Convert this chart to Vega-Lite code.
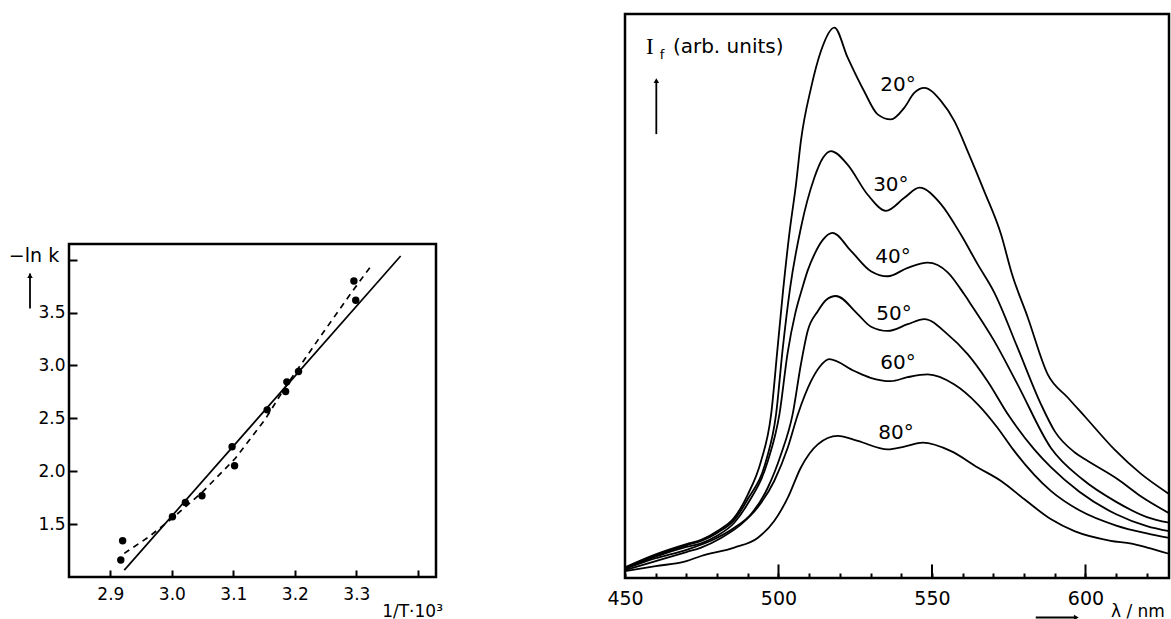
{
  "$schema": "https://vega.github.io/schema/vega-lite/v6.json",
  "background": "white",
  "padding": {"left": 7, "top": 12, "right": 0, "bottom": 0},
  "bounds": "flush",
  "spacing": 556,
  "config": {
    "view": {"stroke": "black", "strokeWidth": 2.5},
    "axis": {"domain": false, "grid": false, "tickColor": "black", "tickWidth": 2, "labelColor": "black", "labelFont": "DejaVu Sans", "labelOverlap": false, "labelFlush": false, "labelBound": false},
    "text": {"font": "DejaVu Sans", "color": "black"}
  },
  "datasets": {
    "points": [
      {"x": 2.920, "y": 1.343}, {"x": 2.917, "y": 1.160}, {"x": 3.001, "y": 1.569}, {"x": 3.022, "y": 1.705},
      {"x": 3.049, "y": 1.768}, {"x": 3.098, "y": 2.231}, {"x": 3.102, "y": 2.051}, {"x": 3.155, "y": 2.580},
      {"x": 3.187, "y": 2.845}, {"x": 3.185, "y": 2.754}, {"x": 3.206, "y": 2.943}, {"x": 3.296, "y": 3.799},
      {"x": 3.299, "y": 3.617}
    ],
    "solid": [{"x": 2.9227, "y": 1.065}, {"x": 3.372, "y": 4.035}],
    "dashed": [
      {"x": 2.9227, "y": 1.223}, {"x": 2.963, "y": 1.381}, {"x": 3.001, "y": 1.557}, {"x": 3.049, "y": 1.799},
      {"x": 3.103, "y": 2.120}, {"x": 3.152, "y": 2.492}, {"x": 3.184, "y": 2.791}, {"x": 3.238, "y": 3.244},
      {"x": 3.292, "y": 3.689}, {"x": 3.326, "y": 3.957}
    ],
    "leftText": [
      {"x": 2.735, "y": 4.03, "label": "−ln k", "size": 19},
      {"x": 3.342, "y": 0.67, "label": "1/T·10³", "size": 17}
    ],
    "leftArrow": [{"x": 2.7694, "y": 3.538, "y2": 3.87}],
    "leftArrowHead": [{"x": 2.7694, "y": 3.85}],
    "spectra": [
      {"curve": "20", "nm": 450, "v": 1.9}, {"curve": "20", "nm": 460, "v": 4.2}, {"curve": "20", "nm": 470, "v": 6.0}, {"curve": "20", "nm": 475, "v": 6.8},
      {"curve": "20", "nm": 480, "v": 8.3}, {"curve": "20", "nm": 485.6, "v": 10.7}, {"curve": "20", "nm": 490, "v": 14.8}, {"curve": "20", "nm": 494.3, "v": 20.7},
      {"curve": "20", "nm": 497.6, "v": 29.0}, {"curve": "20", "nm": 499.7, "v": 40.8}, {"curve": "20", "nm": 501.5, "v": 51.0}, {"curve": "20", "nm": 503.5, "v": 60.9},
      {"curve": "20", "nm": 505.7, "v": 69.8}, {"curve": "20", "nm": 507.3, "v": 77.5}, {"curve": "20", "nm": 510.6, "v": 86.9}, {"curve": "20", "nm": 513.8, "v": 93.4},
      {"curve": "20", "nm": 518.2, "v": 97.6}, {"curve": "20", "nm": 522.5, "v": 92.3}, {"curve": "20", "nm": 527.9, "v": 86.3}, {"curve": "20", "nm": 532.3, "v": 82.2},
      {"curve": "20", "nm": 536.6, "v": 81.3}, {"curve": "20", "nm": 541, "v": 83.4}, {"curve": "20", "nm": 544.2, "v": 86.0}, {"curve": "20", "nm": 547.5, "v": 86.9},
      {"curve": "20", "nm": 552.9, "v": 84.6}, {"curve": "20", "nm": 557.3, "v": 81.0}, {"curve": "20", "nm": 561.6, "v": 75.7}, {"curve": "20", "nm": 567, "v": 68.6},
      {"curve": "20", "nm": 572.5, "v": 60.9}, {"curve": "20", "nm": 576, "v": 54.0}, {"curve": "20", "nm": 581.2, "v": 46.2}, {"curve": "20", "nm": 587.7, "v": 36.1},
      {"curve": "20", "nm": 594.2, "v": 32.0}, {"curve": "20", "nm": 600, "v": 28.5}, {"curve": "20", "nm": 609.4, "v": 22.8}, {"curve": "20", "nm": 618, "v": 18.5},
      {"curve": "20", "nm": 627.2, "v": 14.9},

      {"curve": "30", "nm": 450, "v": 1.8}, {"curve": "30", "nm": 460, "v": 4.0}, {"curve": "30", "nm": 470, "v": 5.8}, {"curve": "30", "nm": 475, "v": 6.6},
      {"curve": "30", "nm": 480, "v": 8.0}, {"curve": "30", "nm": 485.6, "v": 10.3}, {"curve": "30", "nm": 490, "v": 14.0}, {"curve": "30", "nm": 495.9, "v": 20.7},
      {"curve": "30", "nm": 499.2, "v": 29.0}, {"curve": "30", "nm": 501.4, "v": 40.8}, {"curve": "30", "nm": 503.8, "v": 51.5}, {"curve": "30", "nm": 507.3, "v": 62.1},
      {"curve": "30", "nm": 511.7, "v": 71.0}, {"curve": "30", "nm": 514.5, "v": 74.5}, {"curve": "30", "nm": 517.1, "v": 75.7}, {"curve": "30", "nm": 522.5, "v": 73.3},
      {"curve": "30", "nm": 529, "v": 68.0}, {"curve": "30", "nm": 535, "v": 65.1}, {"curve": "30", "nm": 541, "v": 67.4}, {"curve": "30", "nm": 545.9, "v": 69.2},
      {"curve": "30", "nm": 552.9, "v": 66.3}, {"curve": "30", "nm": 559.4, "v": 60.9}, {"curve": "30", "nm": 564.9, "v": 55.6}, {"curve": "30", "nm": 570.3, "v": 50.6},
      {"curve": "30", "nm": 577.9, "v": 40.8}, {"curve": "30", "nm": 585.5, "v": 30.8}, {"curve": "30", "nm": 590, "v": 26.0}, {"curve": "30", "nm": 596.4, "v": 22.3},
      {"curve": "30", "nm": 600, "v": 21.0}, {"curve": "30", "nm": 610.5, "v": 17.5}, {"curve": "30", "nm": 618, "v": 14.5}, {"curve": "30", "nm": 627.2, "v": 11.5},

      {"curve": "40", "nm": 450, "v": 1.7}, {"curve": "40", "nm": 460, "v": 3.8}, {"curve": "40", "nm": 470, "v": 5.5}, {"curve": "40", "nm": 475, "v": 6.2},
      {"curve": "40", "nm": 480, "v": 7.5}, {"curve": "40", "nm": 485.6, "v": 9.8}, {"curve": "40", "nm": 490, "v": 13.2}, {"curve": "40", "nm": 496.5, "v": 20.7},
      {"curve": "40", "nm": 500.3, "v": 29.0}, {"curve": "40", "nm": 503, "v": 40.0}, {"curve": "40", "nm": 505.5, "v": 47.0}, {"curve": "40", "nm": 507.8, "v": 51.5},
      {"curve": "40", "nm": 509.5, "v": 54.5}, {"curve": "40", "nm": 511.7, "v": 57.4}, {"curve": "40", "nm": 514.5, "v": 60.0}, {"curve": "40", "nm": 517.6, "v": 61.2},
      {"curve": "40", "nm": 523.6, "v": 58.0}, {"curve": "40", "nm": 530.1, "v": 54.4}, {"curve": "40", "nm": 535.6, "v": 53.5}, {"curve": "40", "nm": 542.1, "v": 55.0},
      {"curve": "40", "nm": 548.6, "v": 55.9}, {"curve": "40", "nm": 555.1, "v": 54.2}, {"curve": "40", "nm": 560.5, "v": 50.3}, {"curve": "40", "nm": 562.7, "v": 48.5},
      {"curve": "40", "nm": 570.3, "v": 42.0}, {"curve": "40", "nm": 577.9, "v": 34.3}, {"curve": "40", "nm": 588.8, "v": 23.0}, {"curve": "40", "nm": 599, "v": 17.5},
      {"curve": "40", "nm": 610, "v": 13.5}, {"curve": "40", "nm": 620, "v": 10.8}, {"curve": "40", "nm": 627.2, "v": 9.8},

      {"curve": "50", "nm": 450, "v": 1.6}, {"curve": "50", "nm": 460, "v": 3.5}, {"curve": "50", "nm": 470, "v": 5.0}, {"curve": "50", "nm": 478, "v": 6.6},
      {"curve": "50", "nm": 485.6, "v": 8.9}, {"curve": "50", "nm": 491, "v": 11.3}, {"curve": "50", "nm": 496.5, "v": 16.0}, {"curve": "50", "nm": 500.8, "v": 21.9},
      {"curve": "50", "nm": 504.6, "v": 29.0}, {"curve": "50", "nm": 507.3, "v": 37.9}, {"curve": "50", "nm": 509.5, "v": 43.8}, {"curve": "50", "nm": 512.8, "v": 47.3},
      {"curve": "50", "nm": 515.5, "v": 49.3}, {"curve": "50", "nm": 518.7, "v": 50.0}, {"curve": "50", "nm": 525.8, "v": 46.8}, {"curve": "50", "nm": 530, "v": 44.6},
      {"curve": "50", "nm": 535.6, "v": 43.8}, {"curve": "50", "nm": 542.1, "v": 45.0}, {"curve": "50", "nm": 547.5, "v": 45.9}, {"curve": "50", "nm": 555.1, "v": 43.2},
      {"curve": "50", "nm": 561.6, "v": 39.7}, {"curve": "50", "nm": 568.1, "v": 34.9}, {"curve": "50", "nm": 575, "v": 28.8}, {"curve": "50", "nm": 583.3, "v": 22.8},
      {"curve": "50", "nm": 588.8, "v": 19.6}, {"curve": "50", "nm": 598, "v": 15.3}, {"curve": "50", "nm": 610, "v": 11.3}, {"curve": "50", "nm": 620, "v": 9.2},
      {"curve": "50", "nm": 627.2, "v": 8.3},

      {"curve": "60", "nm": 450, "v": 1.4}, {"curve": "60", "nm": 460, "v": 3.0}, {"curve": "60", "nm": 470, "v": 4.6}, {"curve": "60", "nm": 474.8, "v": 5.4},
      {"curve": "60", "nm": 481.3, "v": 7.1}, {"curve": "60", "nm": 487.8, "v": 9.5}, {"curve": "60", "nm": 493.2, "v": 12.5}, {"curve": "60", "nm": 498.6, "v": 17.2},
      {"curve": "60", "nm": 503, "v": 23.1}, {"curve": "60", "nm": 506.3, "v": 29.0}, {"curve": "60", "nm": 510.6, "v": 34.9}, {"curve": "60", "nm": 513.5, "v": 37.5},
      {"curve": "60", "nm": 516.5, "v": 38.8}, {"curve": "60", "nm": 524.7, "v": 36.7}, {"curve": "60", "nm": 530, "v": 35.5}, {"curve": "60", "nm": 536.6, "v": 34.9},
      {"curve": "60", "nm": 542, "v": 35.6}, {"curve": "60", "nm": 548.6, "v": 36.1}, {"curve": "60", "nm": 557.3, "v": 34.3}, {"curve": "60", "nm": 564.9, "v": 30.8},
      {"curve": "60", "nm": 571.4, "v": 26.6}, {"curve": "60", "nm": 576.4, "v": 22.8}, {"curve": "60", "nm": 588.8, "v": 15.4}, {"curve": "60", "nm": 598, "v": 12.0},
      {"curve": "60", "nm": 610, "v": 9.3}, {"curve": "60", "nm": 620, "v": 7.9}, {"curve": "60", "nm": 627.2, "v": 7.1},

      {"curve": "80", "nm": 450, "v": 1.2}, {"curve": "80", "nm": 460, "v": 2.1}, {"curve": "80", "nm": 470, "v": 3.0}, {"curve": "80", "nm": 474.8, "v": 3.9},
      {"curve": "80", "nm": 485.6, "v": 5.4}, {"curve": "80", "nm": 493.2, "v": 7.1}, {"curve": "80", "nm": 498.6, "v": 10.1}, {"curve": "80", "nm": 503, "v": 14.2},
      {"curve": "80", "nm": 507.3, "v": 19.6}, {"curve": "80", "nm": 512.8, "v": 23.7}, {"curve": "80", "nm": 519.3, "v": 25.2}, {"curve": "80", "nm": 525.8, "v": 24.3},
      {"curve": "80", "nm": 535.6, "v": 22.8}, {"curve": "80", "nm": 541, "v": 23.3}, {"curve": "80", "nm": 547, "v": 24.0}, {"curve": "80", "nm": 556.2, "v": 22.5},
      {"curve": "80", "nm": 564.9, "v": 19.6}, {"curve": "80", "nm": 572.5, "v": 17.2}, {"curve": "80", "nm": 580, "v": 14.0}, {"curve": "80", "nm": 588.8, "v": 10.4},
      {"curve": "80", "nm": 596.4, "v": 8.3}, {"curve": "80", "nm": 608.2, "v": 6.6}, {"curve": "80", "nm": 615, "v": 6.1}, {"curve": "80", "nm": 620.1, "v": 5.4},
      {"curve": "80", "nm": 627.2, "v": 4.3}
    ],
    "angleLabels": [
      {"nm": 538.9, "v": 87.4, "label": "20°"}, {"nm": 536.6, "v": 69.7, "label": "30°"}, {"nm": 537.3, "v": 56.9, "label": "40°"},
      {"nm": 537.6, "v": 46.8, "label": "50°"}, {"nm": 538.9, "v": 38.1, "label": "60°"}, {"nm": 538.3, "v": 25.7, "label": "80°"}
    ],
    "longTicks": [{"nm": 500, "v": 0, "v2": 2.4}, {"nm": 550, "v": 0, "v2": 2.4}, {"nm": 600, "v": 0, "v2": 2.4}],
    "rightArrow": [{"nm": 460.2, "v": 78.7, "v2": 88.3}],
    "rightArrowHead": [{"nm": 460.2, "v": 88.2}],
    "bottomArrow": [{"nm": 583.8, "v": -7.0, "nm2": 596.5}],
    "bottomArrowHead": [{"nm": 597.0, "v": -7.0}]
  },
  "hconcat": [
    {
      "bounds": "flush",
      "spacing": 0,
      "vconcat": [
        {
          "width": 367,
          "height": 230,
          "view": {"stroke": null},
          "data": {"values": [{"t": ""}]},
          "mark": {"type": "text"},
          "encoding": {"text": {"field": "t"}}
        },
        {
          "width": 367,
          "height": 333,
          "encoding": {
            "x": {"field": "x", "type": "quantitative", "scale": {"domain": [2.8328, 3.4295], "nice": false, "zero": false},
                  "axis": {"title": null, "values": [2.9, 3.0, 3.1, 3.2, 3.3, 3.4], "labelExpr": "datum.value > 3.35 ? '' : format(datum.value, '.1f')", "tickSize": -7, "labelPadding": 16, "labelFontSize": 17}},
            "y": {"field": "y", "type": "quantitative", "scale": {"domain": [1.0, 4.148], "nice": false, "zero": false},
                  "axis": {"title": null, "values": [1.5, 2.0, 2.5, 3.0, 3.5, 4.0], "labelExpr": "datum.value > 3.9 ? '' : format(datum.value, '.1f')", "tickSize": -8, "labelPadding": 12, "labelFontSize": 17}}
          },
          "layer": [
            {"data": {"name": "solid"}, "mark": {"type": "line", "color": "black", "strokeWidth": 1.7}},
            {"data": {"name": "dashed"}, "mark": {"type": "line", "color": "black", "strokeWidth": 1.7, "strokeDash": [6, 5]}},
            {"data": {"name": "points"}, "mark": {"type": "circle", "color": "black", "opacity": 1, "size": 55}},
            {"data": {"name": "leftText"}, "mark": {"type": "text", "align": "left", "baseline": "middle"},
             "encoding": {"text": {"field": "label"}, "size": {"field": "size", "type": "quantitative", "scale": null}}},
            {"data": {"name": "leftArrow"}, "mark": {"type": "rule", "color": "black", "strokeWidth": 1.8},
             "encoding": {"y2": {"field": "y2"}}},
            {"data": {"name": "leftArrowHead"}, "mark": {"type": "point", "shape": "triangle-up", "filled": true, "color": "black", "opacity": 1, "size": 30}}
          ]
        }
      ]
    },
    {
      "width": 544,
      "height": 564,
      "encoding": {
        "x": {"field": "nm", "type": "quantitative", "scale": {"domain": [450, 627.2], "nice": false, "zero": false},
              "axis": {"title": null, "values": [450, 460, 470, 480, 490, 500, 510, 520, 530, 540, 550, 560, 570, 580, 590, 600, 610, 620],
                       "labelExpr": "datum.value % 50 === 0 ? format(datum.value, 'd') : ''", "tickSize": -5, "labelPadding": 16, "labelFontSize": 19}},
        "y": {"field": "v", "type": "quantitative", "scale": {"domain": [0, 100], "nice": false, "zero": false}, "axis": null}
      },
      "layer": [
        {"data": {"name": "spectra"}, "mark": {"type": "line", "color": "black", "strokeWidth": 1.8, "interpolate": "monotone"},
         "encoding": {"detail": {"field": "curve"}}},
        {"data": {"name": "angleLabels"}, "mark": {"type": "text", "fontSize": 20, "align": "center", "baseline": "middle"},
         "encoding": {"text": {"field": "label"}}},
        {"data": {"name": "longTicks"}, "mark": {"type": "rule", "color": "black", "strokeWidth": 2},
         "encoding": {"y2": {"field": "v2"}}},
        {"data": {"values": [{"nm": 456.84, "v": 92.9, "label": "I"}]}, "mark": {"type": "text", "font": "Liberation Serif", "fontSize": 23, "align": "left", "baseline": "alphabetic"},
         "encoding": {"text": {"field": "label"}}},
        {"data": {"values": [{"nm": 461.3, "v": 92.0, "label": "f"}]}, "mark": {"type": "text", "fontSize": 13, "align": "left", "baseline": "alphabetic"},
         "encoding": {"text": {"field": "label"}}},
        {"data": {"values": [{"nm": 465.6, "v": 93.1, "label": "(arb. units)"}]}, "mark": {"type": "text", "fontSize": 20, "align": "left", "baseline": "alphabetic"},
         "encoding": {"text": {"field": "label"}}},
        {"data": {"name": "rightArrow"}, "mark": {"type": "rule", "color": "black", "strokeWidth": 1.8},
         "encoding": {"y2": {"field": "v2"}}},
        {"data": {"name": "rightArrowHead"}, "mark": {"type": "point", "shape": "triangle-up", "filled": true, "color": "black", "opacity": 1, "size": 30}},
        {"data": {"values": [{"nm": 608.3, "v": -6.0, "label": "λ / nm"}]}, "mark": {"type": "text", "fontSize": 17, "align": "left", "baseline": "middle"},
         "encoding": {"text": {"field": "label"}}},
        {"data": {"name": "bottomArrow"}, "mark": {"type": "rule", "color": "black", "strokeWidth": 1.8},
         "encoding": {"x2": {"field": "nm2"}}},
        {"data": {"name": "bottomArrowHead"}, "mark": {"type": "point", "shape": "triangle-right", "filled": true, "color": "black", "opacity": 1, "size": 30}}
      ]
    }
  ]
}
